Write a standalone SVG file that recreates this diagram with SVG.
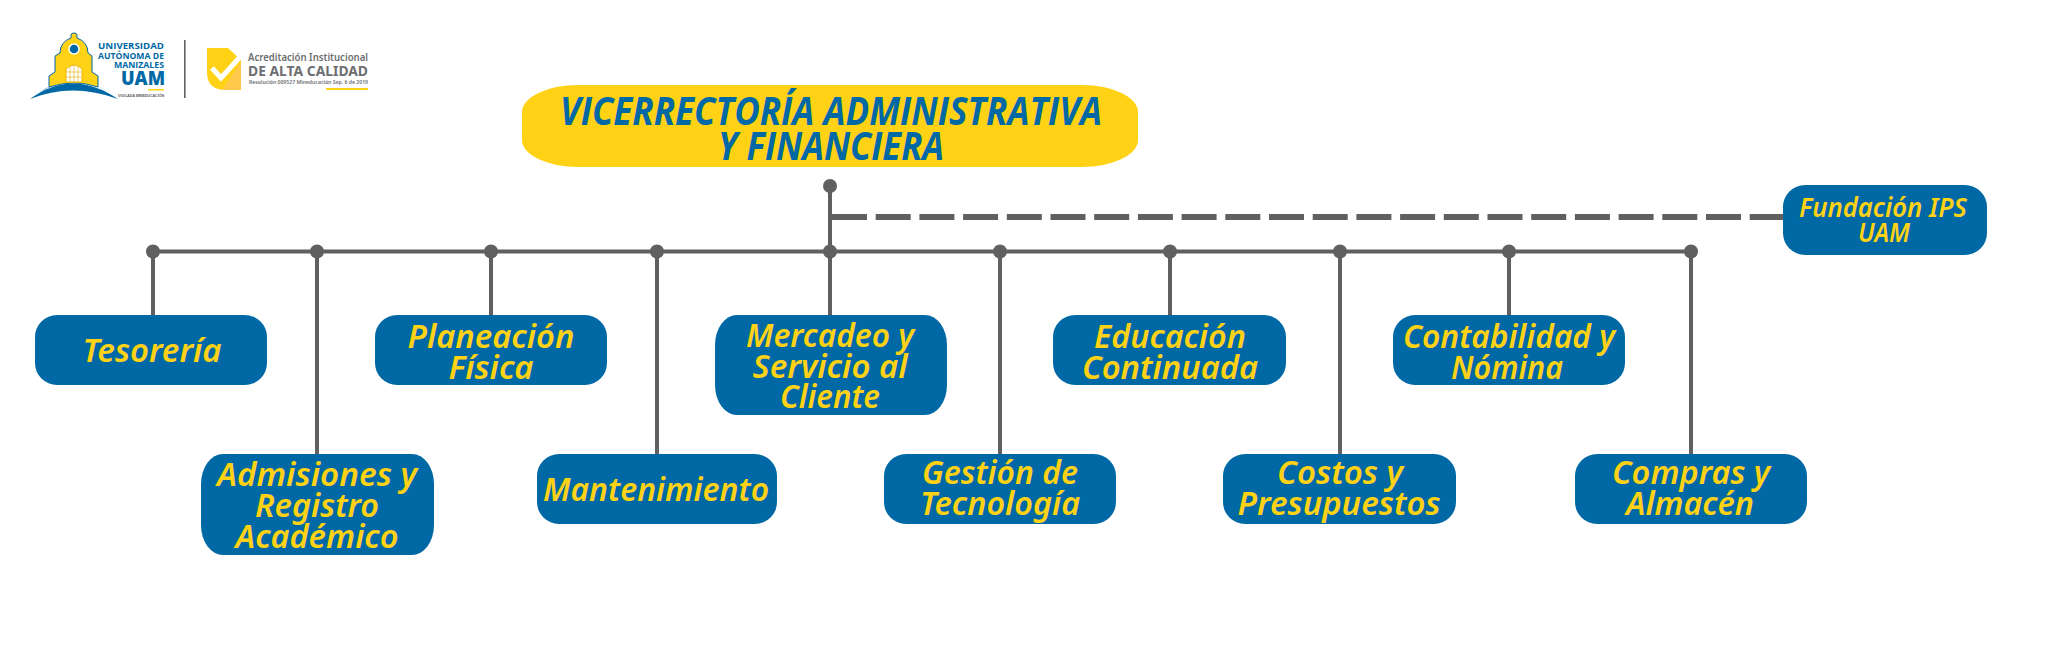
<svg xmlns="http://www.w3.org/2000/svg" width="2056" height="648" viewBox="0 0 2056 648">
<style>
.n{fill:#0069a5}
.t{font-family:"Noto Sans","Open Sans",sans-serif;font-style:italic;font-weight:600;font-size:33px;fill:#ffd215;text-anchor:middle}
.f{font-size:27px}
.h{font-family:"Open Sans","Noto Sans",sans-serif;font-style:italic;font-weight:700;font-size:39px;fill:#0069a5;text-anchor:middle}
.l{stroke:#606060;stroke-width:4;fill:none}
.d{fill:#606060}
.b{font-family:"Open Sans","Liberation Sans",sans-serif;font-weight:700;fill:#0069a5;text-anchor:end}
.g{font-family:"Noto Sans","Liberation Sans",sans-serif;font-weight:600;fill:#6d6e70}
</style>
<g id="logo-uam">
<path d="M30 99Q72 68 118 99Q72 82 30 99Z" fill="#0069a5"/>
<path d="M46 88Q74 78 102 88L112 93Q74 72 38 93Z" fill="#7fb4d2"/>
<path d="M49 87V76L55 72V56L60 53Q60 42 71 38V35Q71 33 74 33Q77 33 77 35V38Q88 42 88 53L92 56V72L98 76V87Q74 79 49 87Z" fill="#ffd215" stroke="#0069a5" stroke-width="1"/>
<circle cx="74" cy="49" r="5" fill="#0069a5" stroke="#fff" stroke-width="1.5"/>
<path d="M66 82V69Q74 61 82 69V82Z" fill="#fff" stroke="#f0b400" stroke-width="1"/>
<path d="M70 66V82M74 64V82M78 66V82M66 72H82M66 77H82" stroke="#e8c040" stroke-width=".8" fill="none"/>
<text class="b" x="164" y="49" font-size="9.5" textLength="66" lengthAdjust="spacingAndGlyphs">UNIVERSIDAD</text>
<text class="b" x="164" y="58.500" font-size="9.5" textLength="66" lengthAdjust="spacingAndGlyphs">AUTÓNOMA DE</text>
<text class="b" x="164" y="68" font-size="9.5" textLength="50" lengthAdjust="spacingAndGlyphs">MANIZALES</text>
<text class="b" x="165" y="85" font-size="20" textLength="44" lengthAdjust="spacingAndGlyphs" style="font-weight:800">UAM</text>
<rect x="148" y="89" width="16" height="1.500" fill="#ffd215"/>
<text x="118" y="97" font-family="Liberation Sans,sans-serif" font-size="4" font-weight="700" fill="#58595b" textLength="46" lengthAdjust="spacingAndGlyphs">VIGILADA MINEDUCACIÓN</text>
</g>
<rect id="divider" x="184" y="40" width="1.600" height="58" fill="#606060"/>
<g id="logo-acreditacion">
<path d="M207 48H228L241 60V90H224Q207 89 207 72Z" fill="#ffd215"/>
<path d="M222 90L241 62V90Z" fill="#fec94a"/>
<path d="M212 68L221 78L240 57" fill="none" stroke="#fff" stroke-width="5"/>
<text class="g" x="248" y="61" font-size="11" textLength="120" lengthAdjust="spacingAndGlyphs">Acreditación Institucional</text>
<text class="g" x="248" y="76" font-size="15" textLength="120" lengthAdjust="spacingAndGlyphs" style="font-weight:700">DE ALTA CALIDAD</text>
<text class="g" x="249" y="84" font-size="5" textLength="119" lengthAdjust="spacingAndGlyphs">Resolución 009527 Mineducación Sep. 6 de 2019</text>
<rect x="326" y="88" width="42" height="2" fill="#ffd215"/>
</g>
<g id="connectors">
<path class="l" d="M830 186V315M153 251.500H1691"/>
<path class="l" d="M153 251V315M317 251V454M491 251V315M657 251V454M1000 251V454M1170 251V315M1340 251V454M1509 251V315M1691 251V454"/>
<path d="M832 217H1783" stroke="#606060" stroke-width="6" stroke-dasharray="35 8.700" fill="none"/>
<g class="d">
<circle cx="830" cy="186" r="7"/><circle cx="153" cy="251.500" r="7"/><circle cx="317" cy="251.500" r="7"/><circle cx="491" cy="251.500" r="7"/><circle cx="657" cy="251.500" r="7"/><circle cx="830" cy="251.500" r="7"/><circle cx="1000" cy="251.500" r="7"/><circle cx="1170" cy="251.500" r="7"/><circle cx="1340" cy="251.500" r="7"/><circle cx="1509" cy="251.500" r="7"/><circle cx="1691" cy="251.500" r="7"/>
</g>
</g>
<g id="vicerrectoria">
<rect x="522" y="85" width="616" height="82" rx="56" ry="27" fill="#ffd215"/>
<text class="h" x="831" y="125" textLength="542" lengthAdjust="spacingAndGlyphs">VICERRECTORÍA ADMINISTRATIVA</text>
<text class="h" x="831" y="160" textLength="226" lengthAdjust="spacingAndGlyphs">Y FINANCIERA</text>
</g>
<g id="fundacion">
<rect class="n" x="1783" y="185" width="204" height="70" rx="22"/>
<text class="t f" x="1883" y="217" textLength="168" lengthAdjust="spacingAndGlyphs">Fundación IPS</text>
<text class="t f" x="1884" y="242" textLength="52" lengthAdjust="spacingAndGlyphs">UAM</text>
</g>
<g id="tesoreria">
<rect class="n" x="35" y="315" width="232" height="70" rx="22"/>
<text class="t" x="152" y="362" textLength="139" lengthAdjust="spacingAndGlyphs">Tesorería</text>
</g>
<g id="admisiones">
<rect class="n" x="201" y="454" width="233" height="101" rx="22" ry="30"/>
<text class="t" x="317" y="486" textLength="200" lengthAdjust="spacingAndGlyphs">Admisiones y</text>
<text class="t" x="317" y="517" textLength="124" lengthAdjust="spacingAndGlyphs">Registro</text>
<text class="t" x="317" y="548" textLength="163" lengthAdjust="spacingAndGlyphs">Académico</text>
</g>
<g id="planeacion">
<rect class="n" x="375" y="315" width="232" height="70" rx="22"/>
<text class="t" x="491" y="348" textLength="167" lengthAdjust="spacingAndGlyphs">Planeación</text>
<text class="t" x="491" y="379" textLength="85" lengthAdjust="spacingAndGlyphs">Física</text>
</g>
<g id="mantenimiento">
<rect class="n" x="537" y="454" width="240" height="70" rx="22"/>
<text class="t" x="656" y="501" textLength="226" lengthAdjust="spacingAndGlyphs">Mantenimiento</text>
</g>
<g id="mercadeo">
<rect class="n" x="715" y="315" width="232" height="100" rx="22" ry="30"/>
<text class="t" x="830" y="347" textLength="168" lengthAdjust="spacingAndGlyphs">Mercadeo y</text>
<text class="t" x="830" y="378" textLength="155" lengthAdjust="spacingAndGlyphs">Servicio al</text>
<text class="t" x="830" y="408" textLength="100" lengthAdjust="spacingAndGlyphs">Cliente</text>
</g>
<g id="gestion">
<rect class="n" x="884" y="454" width="232" height="70" rx="22"/>
<text class="t" x="1000" y="484" textLength="156" lengthAdjust="spacingAndGlyphs">Gestión de</text>
<text class="t" x="1000" y="515" textLength="160" lengthAdjust="spacingAndGlyphs">Tecnología</text>
</g>
<g id="educacion">
<rect class="n" x="1053" y="315" width="233" height="70" rx="22"/>
<text class="t" x="1170" y="348" textLength="152" lengthAdjust="spacingAndGlyphs">Educación</text>
<text class="t" x="1170" y="379" textLength="176" lengthAdjust="spacingAndGlyphs">Continuada</text>
</g>
<g id="costos">
<rect class="n" x="1223" y="454" width="233" height="70" rx="22"/>
<text class="t" x="1340" y="484" textLength="126" lengthAdjust="spacingAndGlyphs">Costos y</text>
<text class="t" x="1339" y="515" textLength="203" lengthAdjust="spacingAndGlyphs">Presupuestos</text>
</g>
<g id="contabilidad">
<rect class="n" x="1393" y="315" width="232" height="70" rx="22"/>
<text class="t" x="1509" y="348" textLength="212" lengthAdjust="spacingAndGlyphs">Contabilidad y</text>
<text class="t" x="1507" y="379" textLength="112" lengthAdjust="spacingAndGlyphs">Nómina</text>
</g>
<g id="compras">
<rect class="n" x="1575" y="454" width="232" height="70" rx="22"/>
<text class="t" x="1691" y="484" textLength="158" lengthAdjust="spacingAndGlyphs">Compras y</text>
<text class="t" x="1690" y="515" textLength="128" lengthAdjust="spacingAndGlyphs">Almacén</text>
</g>
</svg>
